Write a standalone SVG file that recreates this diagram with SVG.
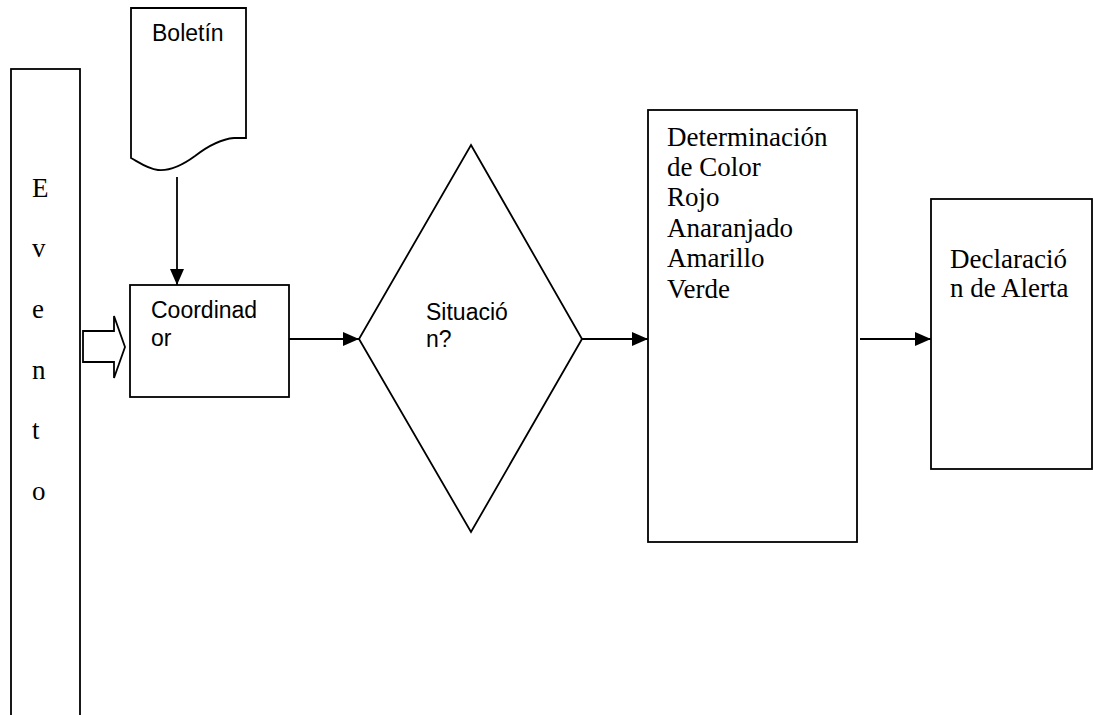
<svg xmlns="http://www.w3.org/2000/svg" width="1094" height="715" viewBox="0 0 1094 715">
<defs>
<style>
.shape{fill:#fff;stroke:#000;stroke-width:1.8}
.sans{font-family:"Liberation Sans",Arial,sans-serif;font-size:23px;fill:#000}
.serif{font-family:"Liberation Serif","Times New Roman",serif;font-size:27px;fill:#000}
.conn{stroke:#000;stroke-width:1.8;fill:none;marker-end:url(#ah)}
</style>
<marker id="ah" markerUnits="userSpaceOnUse" markerWidth="18" markerHeight="14" refX="16" refY="7" orient="auto">
<path d="M0,0 L16,7 L0,14 Z" fill="#000"/>
</marker>
</defs>
<rect width="1094" height="715" fill="#fff"/>
<g id="evento">
<rect class="shape" x="11" y="69" width="69" height="660"/>
<text class="serif" x="32" y="197">E</text>
<text class="serif" x="32" y="257">v</text>
<text class="serif" x="32" y="318">e</text>
<text class="serif" x="32" y="379">n</text>
<text class="serif" x="32" y="439">t</text>
<text class="serif" x="32" y="500">o</text>
</g>
<g id="boletin">
<path class="shape" d="M131,8 L246,8 L246,138 L234,138 C222,139 208,146 195,156 C180,167 168,171 158,170 C148,169 140,163 131,158 Z"/>
<text class="sans" x="152" y="41">Boletín</text>
</g>
<g id="coordinador">
<rect class="shape" x="130" y="285" width="159" height="112"/>
<text class="sans" x="151" y="318">Coordinad</text>
<text class="sans" x="151" y="346">or</text>
</g>
<g id="situacion">
<polygon class="shape" points="471,145 582,339 471,532 359,339"/>
<text class="sans" x="426" y="320">Situació</text>
<text class="sans" x="426" y="347">n?</text>
</g>
<g id="determinacion">
<rect class="shape" x="648" y="110" width="209" height="432"/>
<text class="serif" x="667" y="146">Determinación</text>
<text class="serif" x="667" y="176">de Color</text>
<text class="serif" x="667" y="206">Rojo</text>
<text class="serif" x="667" y="237">Anaranjado</text>
<text class="serif" x="667" y="267">Amarillo</text>
<text class="serif" x="667" y="298">Verde</text>
</g>
<g id="declaracion">
<rect class="shape" x="931" y="199" width="161" height="270"/>
<text class="serif" x="950" y="268">Declaració</text>
<text class="serif" x="950" y="297">n de Alerta</text>
</g>
<g id="connectors">
<polygon class="shape" points="83,331 114,331 114,316 125,347 114,378 114,362 83,362"/>
<line class="conn" x1="177" y1="177" x2="177" y2="285"/>
<line class="conn" x1="289" y1="339" x2="359" y2="339"/>
<line class="conn" x1="582" y1="339" x2="648" y2="339"/>
<line class="conn" x1="860" y1="339" x2="931" y2="339"/>
</g>
</svg>
